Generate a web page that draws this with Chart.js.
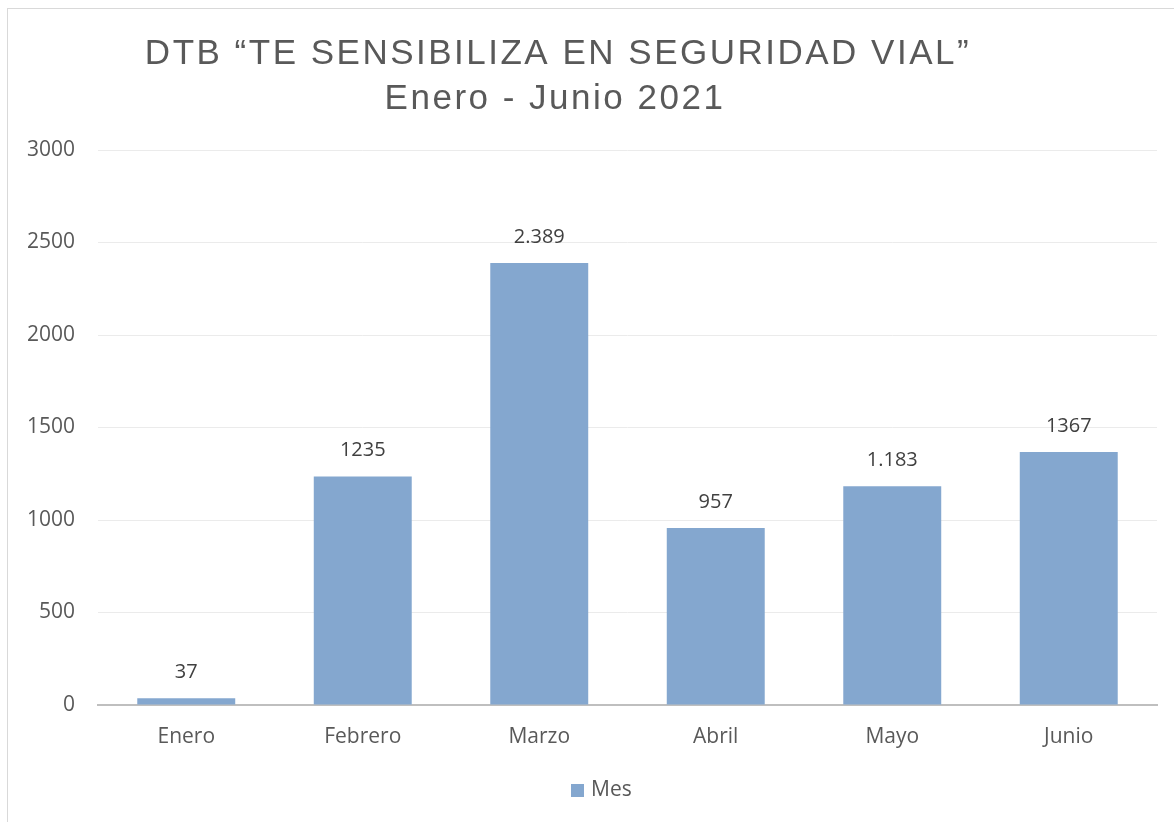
<!DOCTYPE html>
<html>
<head>
<meta charset="utf-8">
<script src="https://cdn.jsdelivr.net/npm/chart.js@4.4.1/dist/chart.umd.min.js"></script>
<style>
  html, body { margin: 0; padding: 0; background: #fff; overflow: hidden; }
  #wrap { position: relative; width: 1174px; height: 822px; }
  #frame { position: absolute; left: 7px; top: 8px; width: 1200px; height: 900px; border: 1px solid #d9d9d9; }
  canvas { position: absolute; left: 0; top: 0; }
</style>
</head>
<body>
<div id="wrap">
  <div id="frame"></div>
  <canvas id="chart" width="1174" height="822"></canvas>
</div>
<script>
// Datos del grafico
const MESES = ['Enero', 'Febrero', 'Marzo', 'Abril', 'Mayo', 'Junio'];
const VALORES = [37, 1235, 2389, 957, 1183, 1367];
// Etiquetas tal como aparecen en el original (formato mixto)
const ETIQUETAS = ['37', '1235', '2.389', '957', '1.183', '1367'];
const TITULO = ['DTB \u201CTE SENSIBILIZA EN SEGURIDAD VIAL\u201D', 'Enero - Junio 2021'];

const TEXT_COLOR = '#595959';
const BAR_COLOR = '#84a7cf';
const FONT = 'Open Sans';

// Titulo dibujado a mano (esta desplazado respecto al centro)
const titlePlugin = {
  id: 'titulo',
  afterDraw(chart) {
    const ctx = chart.ctx;
    ctx.save();
    ctx.fillStyle = TEXT_COLOR;
    ctx.font = '35px "Liberation Sans", Arial, sans-serif';
    ctx.letterSpacing = '2.5px';
    ctx.textAlign = 'center';
    ctx.textBaseline = 'middle';
    ctx.fillText(TITULO[0], 558, 54);
    ctx.fillText(TITULO[1], 555, 99);
    ctx.restore();
  }
};

// Etiquetas de valor sobre cada barra
const labelsPlugin = {
  id: 'etiquetas',
  afterDatasetsDraw(chart) {
    const ctx = chart.ctx;
    const meta = chart.getDatasetMeta(0);
    ctx.save();
    ctx.fillStyle = '#404040';
    ctx.font = '20px "' + FONT + '", sans-serif';
    ctx.textAlign = 'center';
    ctx.textBaseline = 'middle';
    meta.data.forEach((bar, i) => {
      ctx.fillText(ETIQUETAS[i], bar.x, bar.y - 26);
    });
    ctx.restore();
  }
};

// Leyenda propia (desplazada igual que en el original)
const legendPlugin = {
  id: 'leyenda',
  afterDraw(chart) {
    const ctx = chart.ctx;
    const ds = chart.data.datasets[0];
    ctx.save();
    ctx.fillStyle = ds.backgroundColor;
    ctx.fillRect(571, 784, 13, 13);
    ctx.fillStyle = TEXT_COLOR;
    ctx.font = '21px "' + FONT + '", sans-serif';
    ctx.textAlign = 'left';
    ctx.textBaseline = 'middle';
    ctx.fillText(ds.label, 591, 790);
    ctx.restore();
  }
};

new Chart(document.getElementById('chart'), {
  type: 'bar',
  data: {
    labels: MESES,
    datasets: [{
      label: 'Mes',
      data: VALORES,
      backgroundColor: BAR_COLOR,
      barPercentage: 0.555,
      categoryPercentage: 1
    }]
  },
  options: {
    responsive: false,
    animation: false,
    layout: { padding: { left: 0, right: 17, top: 150, bottom: 51 } },
    plugins: {
      legend: { display: false },
      tooltip: { enabled: false }
    },
    scales: {
      x: {
        grid: { display: false, drawTicks: false },
        border: { color: '#bfbfbf', width: 2 },
        ticks: { color: TEXT_COLOR, font: { family: FONT, size: 21 }, padding: 19 },
        afterFit(scale) { scale.height = 66; }
      },
      y: {
        min: 0,
        max: 3000,
        ticks: {
          stepSize: 500,
          color: TEXT_COLOR,
          font: { family: FONT, size: 21 },
          padding: 23,
          callback: v => String(v)
        },
        grid: { color: '#ebebeb', lineWidth: 1, drawTicks: false },
        border: { display: false },
        afterFit(scale) { scale.width = 98; }
      }
    }
  },
  plugins: [titlePlugin, labelsPlugin, legendPlugin]
});
</script>
</body>
</html>
